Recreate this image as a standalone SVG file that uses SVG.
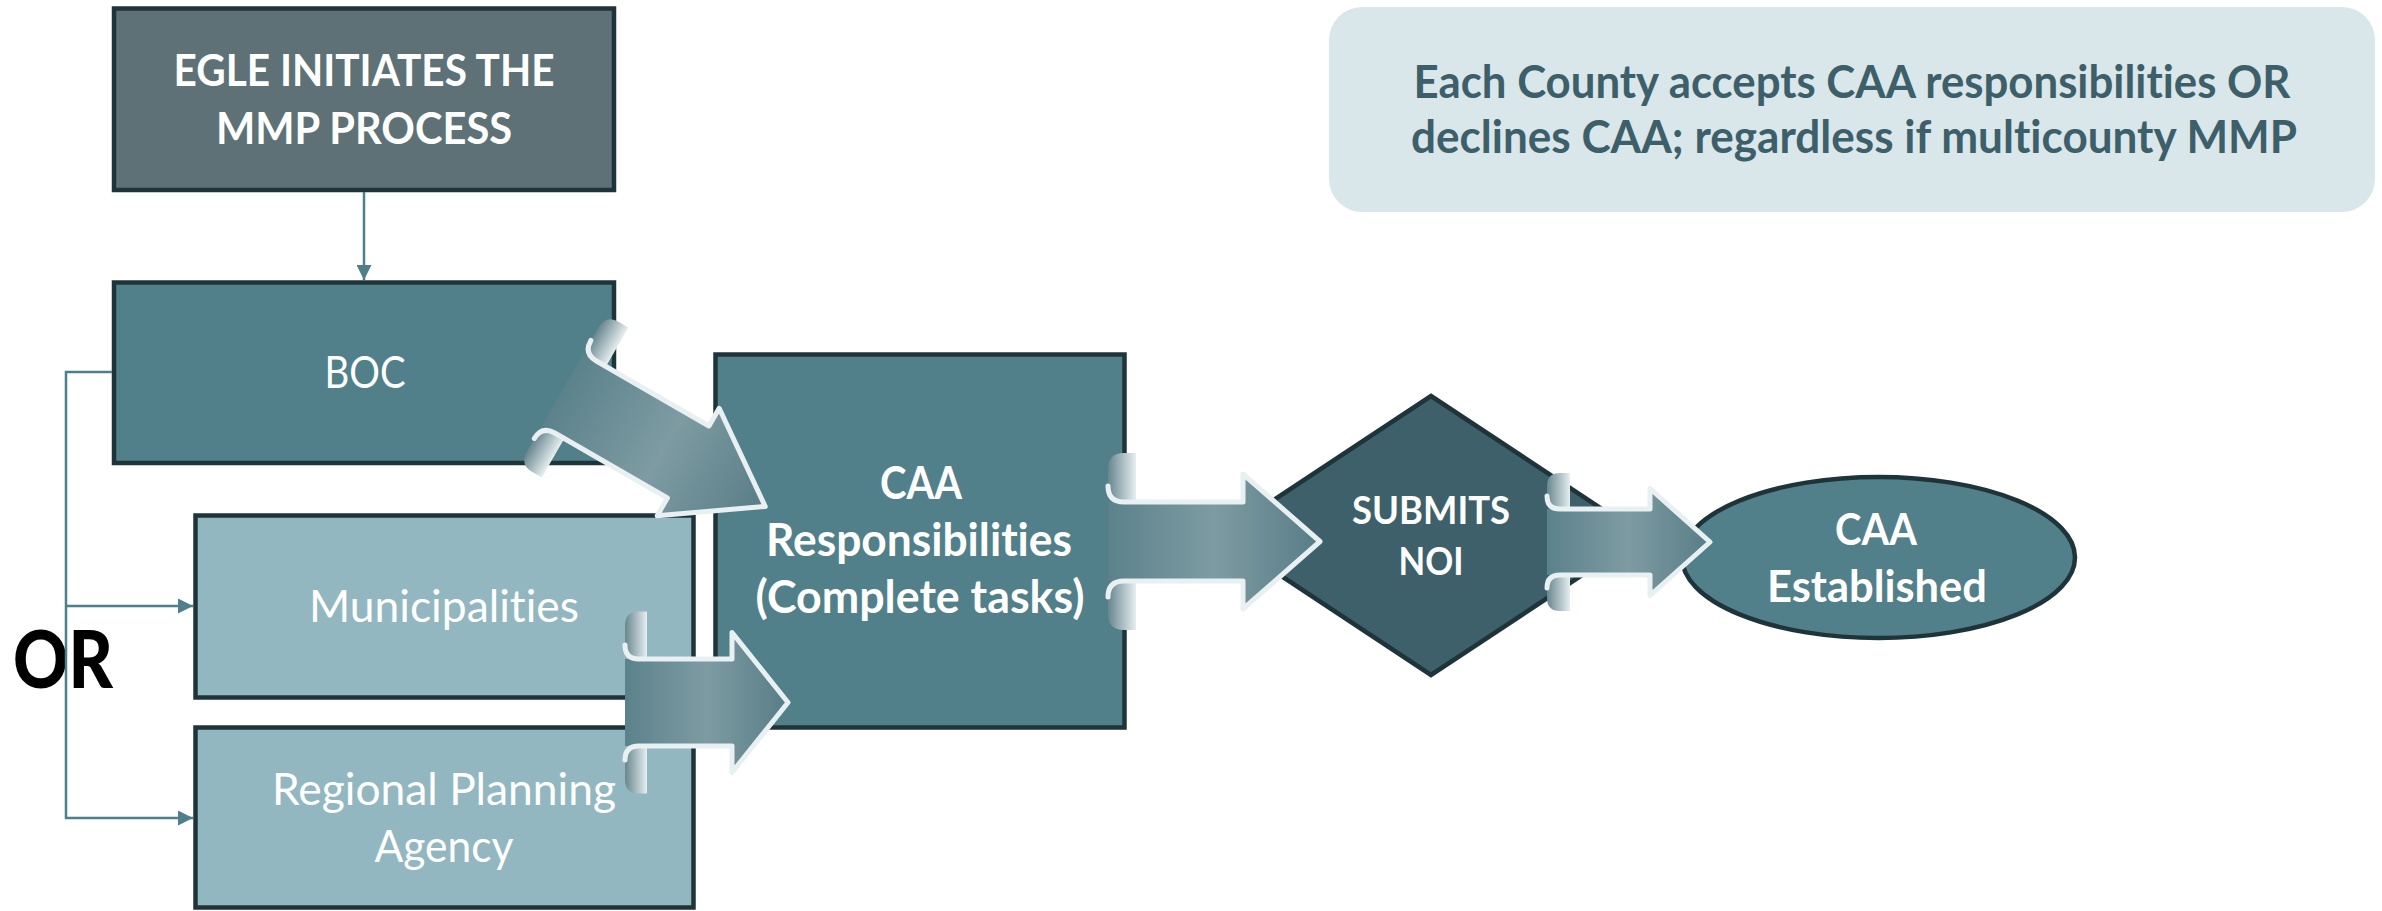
<svg xmlns="http://www.w3.org/2000/svg" width="2382" height="911" viewBox="0 0 2382 911">
<style>
.box{stroke:#1f3439;stroke-width:4.5;stroke-linejoin:miter}
.t{font-family:Lato,"Open Sans","Liberation Sans",sans-serif;fill:#ffffff;text-anchor:middle;font-variant-ligatures:none}
.b{font-weight:700}
.r{font-weight:400}
.conn{fill:none;stroke:#4e7f8b;stroke-width:2.5}
.body{fill:url(#gBody)}
.curl{fill:url(#gCurl)}
.hl{fill:none;stroke:#e9f0f2;stroke-width:5;stroke-linejoin:round;stroke-linecap:round}
</style>
<defs>
<marker id="ah" viewBox="0 0 10 10" refX="10" refY="5" markerWidth="15" markerHeight="15" markerUnits="userSpaceOnUse" orient="auto">
<path d="M0,0 L10,5 L0,10 z" fill="#4e7f8b"/>
</marker>
<linearGradient id="gBody" x1="0" y1="0" x2="1" y2="0">
<stop offset="0" stop-color="#5b828c"/>
<stop offset="0.5" stop-color="#7e9ba2"/>
<stop offset="1" stop-color="#587d87"/>
</linearGradient>
<linearGradient id="gCurl" x1="0" y1="0" x2="1" y2="0">
<stop offset="0" stop-color="#67868e"/>
<stop offset="1" stop-color="#e6eef0"/>
</linearGradient>
</defs>

<rect width="2382" height="911" fill="#ffffff"/>

<g id="note">
<rect x="1329" y="7" width="1046" height="205" rx="33" fill="#d9e6ea"/>
<text class="t b" x="1852" y="98" font-size="45" style="fill:#3d5f69" textLength="877" lengthAdjust="spacingAndGlyphs">Each County accepts CAA responsibilities OR</text>
<text class="t b" x="1854" y="153" font-size="45" style="fill:#3d5f69" textLength="886" lengthAdjust="spacingAndGlyphs">declines CAA; regardless if multicounty MMP</text>
</g>

<g id="egle">
<rect class="box" x="114" y="8.5" width="500" height="181.5" fill="#5e7177"/>
<text class="t b" x="364" y="86" font-size="44" textLength="381" lengthAdjust="spacingAndGlyphs">EGLE INITIATES THE</text>
<text class="t b" x="364" y="144" font-size="44" textLength="296" lengthAdjust="spacingAndGlyphs">MMP PROCESS</text>
</g>

<g id="boc">
<rect class="box" x="114" y="282.5" width="500" height="180.5" fill="#51808b"/>
<text class="t r" x="365" y="388" font-size="44" textLength="81" lengthAdjust="spacingAndGlyphs">BOC</text>
</g>

<g id="municipalities">
<rect class="box" x="195.5" y="515.5" width="498" height="182" fill="#93b7c0"/>
<text class="t r" x="444" y="622" font-size="44" textLength="270" lengthAdjust="spacingAndGlyphs">Municipalities</text>
</g>

<g id="rpa">
<rect class="box" x="195.5" y="727.5" width="498" height="180" fill="#93b7c0"/>
<text class="t r" x="444" y="805" font-size="44" textLength="344" lengthAdjust="spacingAndGlyphs">Regional Planning</text>
<text class="t r" x="444" y="862" font-size="44" textLength="139" lengthAdjust="spacingAndGlyphs">Agency</text>
</g>

<g id="caa-resp">
<rect class="box" x="715.5" y="354.5" width="409" height="373" fill="#51808b"/>
<text class="t b" x="921" y="499" font-size="45" textLength="82" lengthAdjust="spacingAndGlyphs">CAA</text>
<text class="t b" x="919" y="556" font-size="45" textLength="306" lengthAdjust="spacingAndGlyphs">Responsibilities</text>
<text class="t b" x="920" y="613" font-size="45" textLength="329" lengthAdjust="spacingAndGlyphs">(Complete tasks)</text>
</g>

<g id="submits">
<polygon class="box" points="1431,396 1642,535.5 1431,675 1220,535.5" fill="#3d606a"/>
<text class="t b" x="1431" y="524" font-size="38" textLength="158" lengthAdjust="spacingAndGlyphs">SUBMITS</text>
<text class="t b" x="1431" y="575" font-size="38" textLength="65" lengthAdjust="spacingAndGlyphs">NOI</text>
</g>

<g id="caa-established">
<ellipse class="box" cx="1878.5" cy="557.5" rx="196.5" ry="80.5" fill="#51808b"/>
<text class="t b" x="1876" y="545" font-size="43" textLength="82" lengthAdjust="spacingAndGlyphs">CAA</text>
<text class="t b" x="1877" y="602" font-size="43" textLength="220" lengthAdjust="spacingAndGlyphs">Established</text>
</g>

<g id="or-label">
<text x="63" y="688" font-family="Lato,'Open Sans','Liberation Sans',sans-serif" font-weight="900" font-size="80" fill="#000000" text-anchor="middle" textLength="100" lengthAdjust="spacingAndGlyphs">OR</text>
</g>

<g id="connectors">
<path class="conn" d="M364,192 V280" marker-end="url(#ah)"/>
<path class="conn" d="M112,372 H66 V818 H193" marker-end="url(#ah)"/>
<path class="conn" d="M66,606 H193" marker-end="url(#ah)"/>

<g id="arrow-boc-caa" transform="translate(562.6,389.5) rotate(30)">
<path class="body" d="M0,-41.6 L145,-41.6 L145,-62 L234,0 L145,62 L145,41.6 L0,41.6 Z"/>
<path class="curl" d="M26,-86.6 L15,-86.6 Q0,-86.6 0,-70.6 L0,-56.6 Q0,-41.6 15,-41.6 L26,-41.6 Z"/>
<path class="curl" d="M26,86.6 L15,86.6 Q0,86.6 0,70.6 L0,56.6 Q0,41.6 15,41.6 L26,41.6 Z"/>
<path class="hl" d="M0,-56.6 Q0,-41.6 15,-41.6 L145,-41.6 L145,-62 L234,0 L145,62 L145,41.6 L15,41.6 Q0,41.6 0,56.6"/>
</g>

<g id="arrow-muni-caa" transform="translate(625,702.5)">
<path class="body" d="M0,-43.5 L107,-43.5 L107,-70 L163,0 L107,70 L107,43.5 L0,43.5 Z"/>
<path class="curl" d="M22,-91 L14,-91 Q0,-91 0,-77 L0,-57.5 Q0,-43.5 14,-43.5 L22,-43.5 Z"/>
<path class="curl" d="M22,91 L14,91 Q0,91 0,77 L0,57.5 Q0,43.5 14,43.5 L22,43.5 Z"/>
<path class="hl" d="M0,-57.5 Q0,-43.5 14,-43.5 L107,-43.5 L107,-70 L163,0 L107,70 L107,43.5 L14,43.5 Q0,43.5 0,57.5"/>
</g>

<g id="arrow-caa-submits" transform="translate(1108,541.5)">
<path class="body" d="M0,-39.5 L135,-39.5 L135,-67.5 L212,0 L135,67.5 L135,39.5 L0,39.5 Z"/>
<path class="curl" d="M28,-88.5 L16,-88.5 Q0,-88.5 0,-72.5 L0,-55.5 Q0,-39.5 16,-39.5 L28,-39.5 Z"/>
<path class="curl" d="M28,88.5 L16,88.5 Q0,88.5 0,72.5 L0,55.5 Q0,39.5 16,39.5 L28,39.5 Z"/>
<path class="hl" d="M0,-55.5 Q0,-39.5 16,-39.5 L135,-39.5 L135,-67.5 L212,0 L135,67.5 L135,39.5 L16,39.5 Q0,39.5 0,55.5"/>
</g>

<g id="arrow-submits-established" transform="translate(1547,542)">
<path class="body" d="M0,-33 L103,-33 L103,-53.5 L163,0 L103,53.5 L103,33 L0,33 Z"/>
<path class="curl" d="M23,-69 L13,-69 Q0,-69 0,-56 L0,-46 Q0,-33 13,-33 L23,-33 Z"/>
<path class="curl" d="M23,69 L13,69 Q0,69 0,56 L0,46 Q0,33 13,33 L23,33 Z"/>
<path class="hl" d="M0,-46 Q0,-33 13,-33 L103,-33 L103,-53.5 L163,0 L103,53.5 L103,33 L13,33 Q0,33 0,46"/>
</g>
</g>
</svg>
